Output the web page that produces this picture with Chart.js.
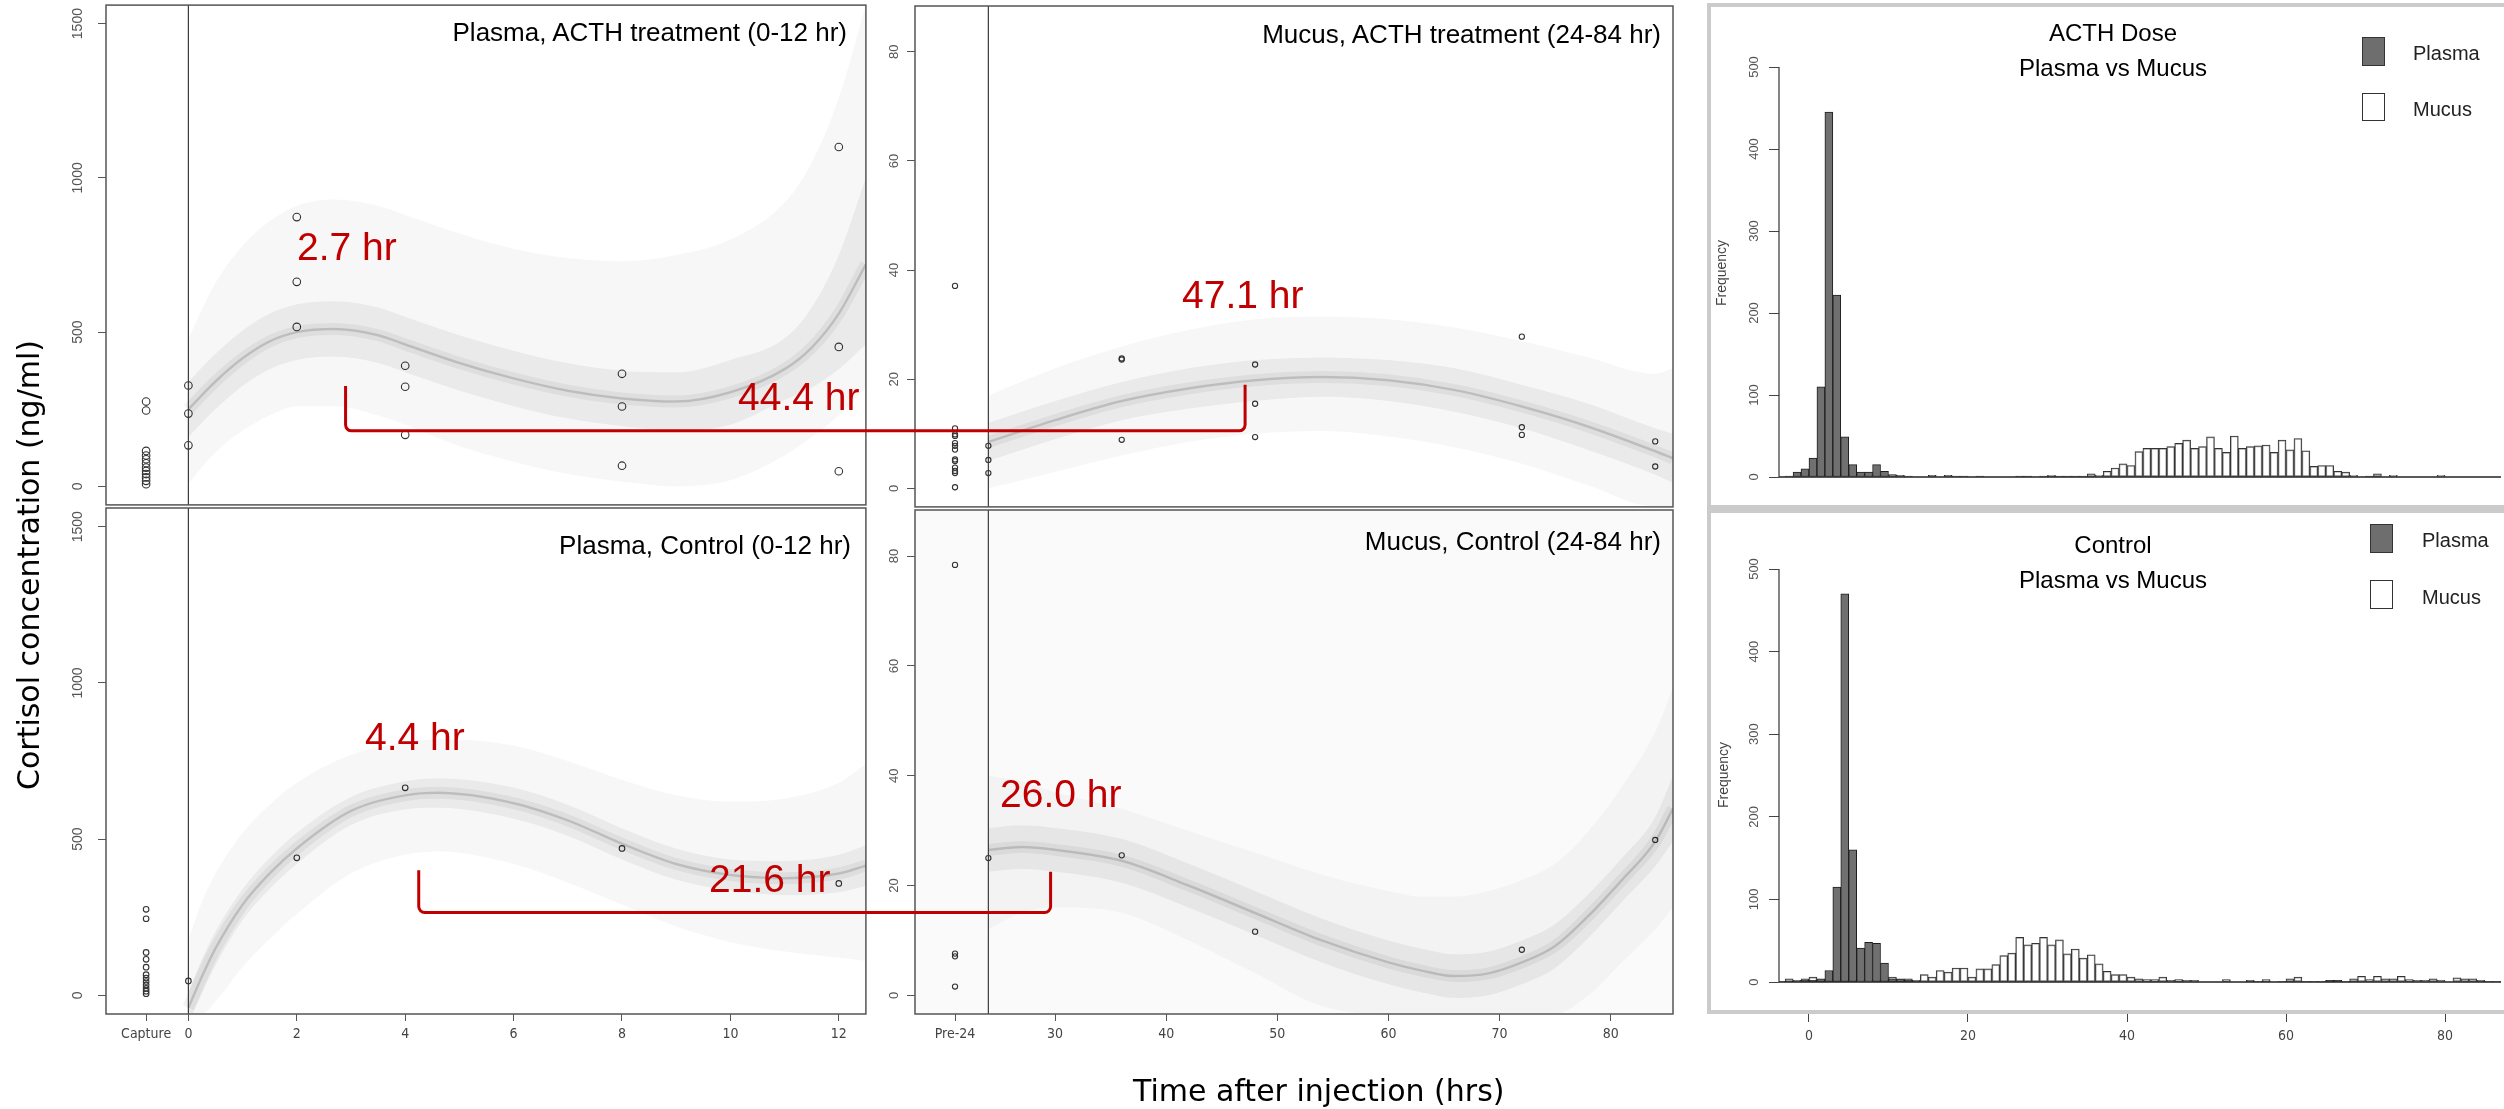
<!DOCTYPE html>
<html>
<head>
<meta charset="utf-8">
<script src="https://cdn.jsdelivr.net/npm/chart.js@4.4.1/dist/chart.umd.min.js"></script>
<style>
  html, body { margin: 0; padding: 0; background: #fff; }
  body { width: 2504px; height: 1109px; position: relative; overflow: hidden; font-family: 'Liberation Sans', Arial, sans-serif; }
  canvas { position: absolute; }
  .txt { position: absolute; white-space: nowrap; line-height: 1; }
  .frame { position: absolute; box-sizing: border-box; border: 4px solid #cbcbcb; }
  .key { position: absolute; box-sizing: border-box; border: 1.5px solid #333; }
</style>
</head>
<body>
<div class="frame" style="left:1707px; top:3px; width:820px; height:506px;"></div>
<div class="frame" style="left:1707px; top:509px; width:820px; height:505px;"></div>

<canvas id="plasmaActh" width="815" height="510" style="left:56px; top:0px;"></canvas>
<canvas id="mucusActh" width="814" height="512" style="left:865px; top:0px;"></canvas>
<canvas id="plasmaCtrl" width="815" height="550" style="left:56px; top:500px;"></canvas>
<canvas id="mucusCtrl" width="814" height="550" style="left:865px; top:500px;"></canvas>
<canvas id="histActh" width="785" height="500" style="left:1719px; top:0px;"></canvas>
<canvas id="histCtrl" width="785" height="545" style="left:1719px; top:505px;"></canvas>
<canvas id="overlay" width="2504" height="1109" style="left:0; top:0; pointer-events:none;"></canvas>

<script>
// ---------------- data ----------------
const captureT = -0.78;   // where the "Capture" samples sit on the plasma time axis
const pre24T = 21;        // where the "Pre-24" samples sit on the mucus time axis

const plasmaXTicks = [captureT, 0, 2, 4, 6, 8, 10, 12];
const mucusXTicks = [pre24T, 30, 40, 50, 60, 70, 80];
const plasmaYTicks = [0, 500, 1000, 1500];
const mucusYTicks = [0, 20, 40, 60, 80];
const histXTicks = [0, 20, 40, 60, 80];
const histYTicks = [0, 100, 200, 300, 400, 500];

// observed samples (circles)
const paObsT = [captureT, captureT, captureT, captureT, captureT, captureT, captureT, captureT, captureT, captureT, captureT, captureT,
  0, 0, 0, 2, 2, 2, 4, 4, 4, 8, 8, 8, 12, 12, 12];
const paObsY = [275, 246, 115, 100, 88, 75, 61, 50, 40, 29, 18, 7,
  327, 236, 133, 873, 663, 517, 391, 323, 167, 365, 259, 67, 1100, 452, 49];

const pcObsT = [captureT, captureT, captureT, captureT, captureT, captureT, captureT, captureT, captureT, captureT, captureT, captureT,
  0, 2, 4, 8, 12];
const pcObsY = [275, 245, 137, 115, 90, 66, 55, 44, 33, 22, 13, 5, 46, 440, 664, 470, 358];

const maObsT = [pre24T, pre24T, pre24T, pre24T, pre24T, pre24T, pre24T, pre24T, pre24T, pre24T, pre24T, pre24T, pre24T,
  24, 24, 24, 36, 36, 36, 48, 48, 48, 72, 72, 72, 84, 84];
const maObsY = [37.1, 11.0, 9.9, 9.6, 8.3, 7.8, 7.1, 5.3, 5.0, 3.8, 3.2, 2.8, 0.2,
  7.8, 5.2, 2.8, 23.6, 23.8, 8.9, 22.7, 15.5, 9.4, 27.8, 11.2, 9.8, 8.6, 4.0];

const mcObsT = [pre24T, pre24T, pre24T, pre24T, 24, 36, 48, 72, 84];
const mcObsY = [78.4, 7.6, 7.1, 1.6, 25.0, 25.5, 11.6, 8.3, 28.3];

// fitted curve cloud: centre line and dense / faint envelopes
const paT = [0, 0.5, 1, 1.5, 2, 2.7, 3.5, 4, 5, 6, 7, 8, 9, 10, 11, 11.5, 12, 12.5];
const paMid = [250, 340, 415, 470, 500, 510, 490, 460, 400, 350, 310, 285, 275, 305, 380, 450, 560, 720];
const paInHi = [340, 430, 505, 560, 590, 600, 580, 550, 490, 440, 400, 375, 370, 410, 480, 580, 750, 1000];
const paInLo = [160, 250, 325, 380, 410, 420, 400, 370, 310, 260, 220, 195, 180, 200, 280, 320, 380, 460];
const paOutHi = [480, 660, 780, 860, 910, 930, 910, 880, 820, 770, 740, 730, 750, 800, 920, 1050, 1260, 1560];
const paOutLo = [10, 110, 180, 230, 260, 260, 230, 200, 130, 80, 40, 15, 0, 20, 100, 160, 230, 320];

const pcT = [0, 0.25, 0.5, 1, 1.5, 2, 3, 4, 4.6, 6, 7, 8, 9, 10, 11, 12, 12.5];
const pcMid = [-40, 60, 150, 290, 390, 470, 590, 640, 648, 615, 560, 485, 420, 385, 375, 390, 415];
const pcInHi = [10, 115, 205, 340, 440, 520, 635, 685, 695, 665, 610, 535, 470, 435, 430, 450, 480];
const pcInLo = [-90, 5, 95, 240, 340, 420, 545, 595, 600, 565, 510, 435, 370, 335, 320, 330, 350];
const pcOutHi = [180, 300, 390, 520, 610, 680, 770, 810, 820, 800, 750, 690, 640, 620, 630, 680, 740];
const pcOutLo = [-60, -60, -20, 90, 180, 260, 390, 450, 460, 420, 360, 290, 220, 170, 140, 120, 110];

const maT = [24, 30, 36, 42, 48, 54, 60, 66, 72, 78, 84, 85.6];
const maMid = [8.5, 12.5, 16, 18.3, 19.8, 20.4, 19.8, 18, 15, 11.3, 6.8, 5.5];
const maInHi = [12, 16, 19.5, 22, 23.5, 24, 23.5, 22, 19, 15.5, 11, 10];
const maInLo = [5, 9, 12.5, 14.6, 16, 16.8, 16, 14, 11, 7, 2.5, 1];
const maOutHi = [17, 22, 26, 29, 31, 31.5, 31, 29.5, 27, 24, 21, 22];
const maOutLo = [0, 3, 6, 8.5, 10, 10.5, 9.5, 7.5, 4.5, 0.5, -3.4, -3.4];

const mcT = [24, 27, 30, 36, 42, 48, 54, 60, 63, 66, 69, 72, 75, 78, 81, 84, 85.6];
const mcMid = [26.5, 27, 26.5, 24.5, 20, 15, 10, 6, 4.5, 3.5, 4, 6, 9, 14.5, 21, 28, 34];
const mcInHi = [30.5, 31, 30.5, 28.5, 24, 19, 14, 10, 8.5, 7.5, 8, 10, 13, 18.5, 25, 32.5, 40];
const mcInLo = [22.5, 23, 22.5, 20.5, 16, 11, 6, 2, 0.5, -0.5, 0, 2, 5, 10.5, 17, 23.5, 28];
const mcOutHi = [40, 39, 37, 34, 30, 26, 22, 19, 18, 18, 19, 21, 24, 30, 38, 48, 56];
const mcOutLo = [12, 15, 16, 15, 10, 4, -2, -3.4, -3.4, -3.4, -3.4, -3.4, -3.4, 0, 6, 12, 16];

// histograms of peak time (bin = left edge, 1 hr wide)
const acthPlasmaBin = [-3, -2, -1, 0, 1, 2, 3, 4, 5, 6, 7, 8, 9, 10, 11, 12, 15, 17, 18, 19, 21, 26, 27, 29, 30, 31, 32, 33, 34, 70];
const acthPlasmaN = [1, 6, 10, 23, 110, 445, 222, 49, 15, 6, 6, 15, 7, 3, 2, 1, 2, 2, 1, 1, 1, 1, 1, 1, 1, 1, 1, 1, 1, 1];
const acthMucusBin = [30, 35, 36, 37, 38, 39, 40, 41, 42, 43, 44, 45, 46, 47, 48, 49, 50, 51, 52, 53, 54, 55, 56, 57, 58, 59, 60,
  61, 62, 63, 64, 65, 66, 67, 68, 71, 73, 79];
const acthMucusN = [2, 4, 2, 7, 11, 16, 14, 31, 35, 35, 35, 37, 41, 45, 35, 37, 49, 35, 30, 50, 35, 37, 38, 39, 30, 45, 33,
  47, 32, 13, 14, 14, 7, 6, 2, 4, 2, 2];

const ctrlPlasmaBin = [-4, -3, -2, -1, 0, 1, 2, 3, 4, 5, 6, 7, 8, 9, 10, 11, 12, 13, 55, 56, 57, 59, 60, 62, 63, 64, 65, 66, 67, 68, 84, 85, 86];
const ctrlPlasmaN = [1, 1, 1, 2, 2, 4, 14, 115, 470, 160, 41, 48, 47, 23, 4, 3, 2, 1, 1, 1, 1, 1, 1, 1, 1, 1, 2, 2, 1, 1, 1, 1, 1];
const ctrlMucusBin = [-3, -2, -1, 0, 1, 2, 3, 4, 5, 8, 9, 10, 11, 12, 13, 14, 15, 16, 17, 18, 19, 20, 21, 22, 23, 24, 25, 26, 27, 28, 29,
  30, 31, 32, 33, 34, 35, 36, 37, 38, 39, 40, 41, 42, 43, 44, 45, 46, 47, 48, 52, 55, 57, 60, 61, 65, 66,
  68, 69, 70, 71, 72, 73, 74, 75, 76, 77, 78, 79, 81, 82, 83, 84];
const ctrlMucusN = [4, 2, 4, 6, 3, 2, 2, 2, 2, 2, 2, 6, 4, 4, 2, 9, 6, 14, 12, 17, 17, 6, 16, 16, 21, 32, 35, 54, 45, 47, 54,
  45, 51, 34, 40, 29, 33, 22, 13, 9, 9, 6, 4, 3, 3, 6, 2, 3, 2, 2, 3, 2, 3, 4, 6, 2, 2,
  4, 7, 3, 7, 4, 4, 7, 3, 2, 2, 4, 2, 5, 4, 4, 2];

// ---------------- helpers ----------------
Chart.defaults.font.family = "'Liberation Sans', Arial, sans-serif";
const narrow = "'Liberation Sans Narrow', 'DejaVu Sans Condensed', 'Liberation Sans', Arial, sans-serif";

const pts = (t, v) => t.map((x, i) => ({ x: x, y: v[i] }));

// keep the plot box exactly where the layout padding puts it
function fixY(width) {
  return s => { s.width = width; s.paddingTop = 0; s.paddingBottom = 0; };
}
function fixX(show) {
  return s => { s.height = show ? 36 : 0; s.paddingLeft = 0; s.paddingRight = 0; };
}

// box, reference line, R style axis line and baseline
const panelDeco = {
  id: 'panelDeco',
  beforeDatasetsDraw(chart, args, o) {
    if (!o.wash) return;
    const a = chart.chartArea;
    chart.ctx.save();
    chart.ctx.fillStyle = o.wash;
    chart.ctx.fillRect(a.left, a.top, a.right - a.left, a.bottom - a.top);
    chart.ctx.restore();
  },
  afterDatasetsDraw(chart, args, o) {
    const a = chart.chartArea, ctx = chart.ctx;
    ctx.save();
    if (o.vline != null) {
      const x = chart.scales.x.getPixelForValue(o.vline);
      ctx.strokeStyle = '#3a3a3a'; ctx.lineWidth = 1.2;
      ctx.beginPath(); ctx.moveTo(x, a.top); ctx.lineTo(x, a.bottom); ctx.stroke();
    }
    if (o.box) {
      ctx.strokeStyle = '#555'; ctx.lineWidth = 1.5;
      ctx.strokeRect(a.left, a.top, a.right - a.left, a.bottom - a.top);
    }
    if (o.axisLine) {
      const y = chart.scales.y;
      ctx.strokeStyle = '#333'; ctx.lineWidth = 1.2;
      ctx.beginPath();
      ctx.moveTo(a.left, y.getPixelForValue(o.axisLine[0]));
      ctx.lineTo(a.left, y.getPixelForValue(o.axisLine[1]));
      ctx.stroke();
    }
    if (o.baseline) {
      const y0 = chart.scales.y.getPixelForValue(0);
      ctx.strokeStyle = '#222'; ctx.lineWidth = 1.4;
      ctx.beginPath(); ctx.moveTo(a.left, y0); ctx.lineTo(a.right, y0); ctx.stroke();
    }
    ctx.restore();
  }
};

function curvePanel(id, c) {
  const line = (t, v, extra) => Object.assign({
    type: 'line', data: pts(t, v), pointRadius: 0, borderWidth: 0,
    borderColor: 'rgba(0,0,0,0)', fill: false, cubicInterpolationMode: 'monotone'
  }, extra || {});
  const datasets = [
    line(c.t, c.outHi),
    line(c.t, c.outLo, { fill: '-1', backgroundColor: 'rgba(0,0,0,0.03)' }),
    line(c.t, c.inHi),
    line(c.t, c.inLo, { fill: '-1', backgroundColor: 'rgba(0,0,0,0.055)' }),
    line(c.t, c.mid, { borderColor: 'rgba(0,0,0,0.05)', borderWidth: 12 }),
    line(c.t, c.mid, { borderColor: 'rgba(0,0,0,0.15)', borderWidth: 2.5 }),
    { type: 'scatter', data: pts(c.obsT, c.obsY), pointRadius: c.r, pointBorderWidth: 1.1,
      pointBorderColor: '#333', pointBackgroundColor: 'rgba(0,0,0,0)' }
  ];
  return new Chart(document.getElementById(id), {
    type: 'scatter',
    data: { datasets: datasets },
    plugins: [panelDeco],
    options: {
      responsive: false, animation: false, events: [],
      layout: { padding: c.pad },
      plugins: { legend: { display: false }, tooltip: { enabled: false },
        panelDeco: { box: true, vline: c.vline, wash: c.wash } },
      scales: {
        x: {
          type: 'linear', min: c.xMin, max: c.xMax, display: c.showX,
          afterBuildTicks: s => { s.ticks = c.xTicks.map(v => ({ value: v })); },
          afterFit: fixX(c.showX),
          ticks: { autoSkip: false, maxRotation: 0, padding: 5, color: '#444', font: { family: narrow, size: 14 },
            callback: v => (v === c.xSpecial ? c.xSpecialLabel : String(v)) },
          grid: { drawOnChartArea: false, drawTicks: true, tickLength: 7, color: '#555' },
          border: { display: false }
        },
        y: {
          min: c.yMin, max: c.yMax,
          afterBuildTicks: s => { s.ticks = c.yTicks.map(v => ({ value: v })); },
          afterFit: fixY(50),
          ticks: { autoSkip: false, minRotation: 90, maxRotation: 90, crossAlign: 'center',
            padding: c.yPad, color: '#555', font: { size: c.yFont }, callback: v => String(v) },
          grid: { drawOnChartArea: false, drawTicks: true, tickLength: 8, color: '#555' },
          border: { display: false }
        }
      }
    }
  });
}

function histPanel(id, h) {
  const bars = (bin, n, extra) => Object.assign({
    type: 'bar', data: bin.map((b, i) => ({ x: b + 0.5, y: n[i] })),
    grouped: false, barPercentage: 1, categoryPercentage: 1, borderWidth: 1, borderSkipped: false
  }, extra);
  return new Chart(document.getElementById(id), {
    type: 'bar',
    data: { datasets: [
      bars(h.pBin, h.pN, { backgroundColor: '#707070', borderColor: '#1e1e1e' }),
      bars(h.mBin, h.mN, { backgroundColor: 'rgba(255,255,255,0.55)', borderColor: '#333' })
    ] },
    plugins: [panelDeco],
    options: {
      responsive: false, animation: false, events: [],
      layout: { padding: h.pad },
      plugins: { legend: { display: false }, tooltip: { enabled: false },
        panelDeco: { axisLine: [0, 500], baseline: true } },
      scales: {
        x: {
          type: 'linear', min: -3.77, max: 87.04, offset: false, display: h.showX,
          afterBuildTicks: s => { s.ticks = histXTicks.map(v => ({ value: v })); },
          afterFit: fixX(h.showX),
          ticks: { autoSkip: false, maxRotation: 0, padding: 6, color: '#444', font: { family: narrow, size: 14 } },
          grid: { offset: false, drawOnChartArea: false, drawTicks: true, tickLength: 8, color: '#444' },
          border: { display: false }
        },
        y: {
          min: h.yMin, max: 500,
          afterBuildTicks: s => { s.ticks = histYTicks.map(v => ({ value: v })); },
          afterFit: fixY(60),
          ticks: { autoSkip: false, minRotation: 90, maxRotation: 90, crossAlign: 'center',
            padding: 4, color: '#555', font: { size: 13 }, callback: v => String(v) },
          grid: { drawOnChartArea: false, drawTicks: true, tickLength: 10, color: '#444' },
          border: { display: false }
        }
      }
    }
  });
}

// ---------------- charts ----------------
const plasmaBase = { xMin: -1.52, xMax: 12.5, yMin: -60, yMax: 1560, xTicks: plasmaXTicks, yTicks: plasmaYTicks,
  xSpecial: captureT, xSpecialLabel: 'Capture', vline: 0, yPad: 4, yFont: 14 };
const mucusBase = { xMin: 17.4, xMax: 85.6, yMin: -3.4, yMax: 88.4, xTicks: mucusXTicks, yTicks: mucusYTicks,
  xSpecial: pre24T, xSpecialLabel: 'Pre-24', vline: 24, yPad: 5, yFont: 13 };

const cPA = curvePanel('plasmaActh', Object.assign({}, plasmaBase, {
  showX: false, pad: { top: 3, right: 5, bottom: 5, left: 0 }, r: 3.8,
  t: paT, mid: paMid, inHi: paInHi, inLo: paInLo, outHi: paOutHi, outLo: paOutLo, obsT: paObsT, obsY: paObsY }));
const cPC = curvePanel('plasmaCtrl', Object.assign({}, plasmaBase, {
  showX: true, pad: { top: 8, right: 5, bottom: 0, left: 0 }, r: 2.8,
  t: pcT, mid: pcMid, inHi: pcInHi, inLo: pcInLo, outHi: pcOutHi, outLo: pcOutLo, obsT: pcObsT, obsY: pcObsY }));
const cMA = curvePanel('mucusActh', Object.assign({}, mucusBase, {
  showX: false, pad: { top: 6, right: 6, bottom: 3, left: 0 }, r: 2.6,
  t: maT, mid: maMid, inHi: maInHi, inLo: maInLo, outHi: maOutHi, outLo: maOutLo, obsT: maObsT, obsY: maObsY }));
const cMC = curvePanel('mucusCtrl', Object.assign({}, mucusBase, {
  showX: true, pad: { top: 10, right: 6, bottom: 0, left: 0 }, r: 2.6, wash: 'rgba(0,0,0,0.02)',
  t: mcT, mid: mcMid, inHi: mcInHi, inLo: mcInLo, outHi: mcOutHi, outLo: mcOutLo, obsT: mcObsT, obsY: mcObsY }));

histPanel('histActh', { showX: false, yMin: 0, pad: { top: 67, right: 3, bottom: 23, left: 0 },
  pBin: acthPlasmaBin, pN: acthPlasmaN, mBin: acthMucusBin, mN: acthMucusN });
histPanel('histCtrl', { showX: true, yMin: -38.7, pad: { top: 64, right: 3, bottom: 0, left: 0 },
  pBin: ctrlPlasmaBin, pN: ctrlPlasmaN, mBin: ctrlMucusBin, mN: ctrlMucusN });

// ---------------- lag brackets (peak time in plasma -> peak time in mucus) ----------------
const canvasPos = { plasmaActh: [56, 0], mucusActh: [865, 0], plasmaCtrl: [56, 500], mucusCtrl: [865, 500] };
const brackets = [
  { from: cPA, to: cMA, x0: 2.9, y0: 325, level: 180, x1: 47.1, y1: 19 },
  { from: cPC, to: cMC, x0: 4.25, y0: 400, level: 265, x1: 29.6, y1: 22.5 }
];
const octx = document.getElementById('overlay').getContext('2d');
octx.strokeStyle = '#c00000';
octx.lineWidth = 3;
octx.lineJoin = 'round';
brackets.forEach(b => {
  const pf = canvasPos[b.from.canvas.id], pt = canvasPos[b.to.canvas.id];
  const lx = pf[0] + b.from.scales.x.getPixelForValue(b.x0);
  const ly = pf[1] + b.from.scales.y.getPixelForValue(b.y0);
  const hy = pf[1] + b.from.scales.y.getPixelForValue(b.level);
  const rx = pt[0] + b.to.scales.x.getPixelForValue(b.x1);
  const ry = pt[1] + b.to.scales.y.getPixelForValue(b.y1);
  octx.beginPath();
  octx.moveTo(lx, ly);
  octx.arcTo(lx, hy, rx, hy, 6);
  octx.arcTo(rx, hy, rx, ry, 6);
  octx.lineTo(rx, ry);
  octx.stroke();
});

// ---------------- text ----------------
function addText(str, x, baseline, size, opt) {
  opt = opt || {};
  const d = document.createElement('div');
  d.className = 'txt';
  d.textContent = str;
  d.style.fontSize = size + 'px';
  d.style.color = opt.color || '#000';
  if (opt.family) d.style.fontFamily = opt.family;
  d.style.top = (baseline - 0.85 * size) + 'px';
  if (opt.align === 'right') d.style.right = (2504 - x) + 'px';
  else if (opt.align === 'center') { d.style.left = x + 'px'; d.style.transform = 'translateX(-50%)'; }
  else d.style.left = x + 'px';
  document.body.appendChild(d);
}
function addRotated(str, cx, cy, size, opt) {
  opt = opt || {};
  const d = document.createElement('div');
  d.className = 'txt';
  d.textContent = str;
  d.style.fontSize = size + 'px';
  d.style.color = opt.color || '#000';
  if (opt.family) d.style.fontFamily = opt.family;
  d.style.left = cx + 'px';
  d.style.top = cy + 'px';
  d.style.transform = 'translate(-50%, -50%) rotate(-90deg)';
  document.body.appendChild(d);
}
function addKey(x, y, w, h, fill) {
  const d = document.createElement('div');
  d.className = 'key';
  Object.assign(d.style, { left: x + 'px', top: y + 'px', width: w + 'px', height: h + 'px', background: fill });
  document.body.appendChild(d);
}

// panel titles
addText('Plasma, ACTH treatment (0-12 hr)', 847, 41, 26, { align: 'right' });
addText('Mucus, ACTH treatment (24-84 hr)', 1661, 43, 26, { align: 'right' });
addText('Plasma, Control (0-12 hr)', 851, 554, 26, { align: 'right' });
addText('Mucus, Control (24-84 hr)', 1661, 550, 26, { align: 'right' });

// peak / lag annotations
const red = { color: '#c00000' };
addText('2.7 hr', 297, 260, 39, red);
addText('44.4 hr', 738, 410, 39, red);
addText('47.1 hr', 1182, 308, 39, red);
addText('4.4 hr', 365, 750, 39, red);
addText('21.6 hr', 709, 892, 39, red);
addText('26.0 hr', 1000, 807, 39, red);

// axis titles
addRotated('Cortisol concentration (ng/ml)', 29, 565, 30, { family: "'DejaVu Sans', sans-serif" });
addText('Time after injection (hrs)', 1133, 1101, 30, { family: "'DejaVu Sans', sans-serif" });

// histogram titles, legends, axis label
addText('ACTH Dose', 2113, 41, 24, { align: 'center' });
addText('Plasma vs Mucus', 2113, 76, 24, { align: 'center' });
addText('Control', 2113, 553, 24, { align: 'center' });
addText('Plasma vs Mucus', 2113, 588, 24, { align: 'center' });
addRotated('Frequency', 1721, 273, 14, { color: '#444' });
addRotated('Frequency', 1723, 775, 14, { color: '#444' });

addKey(2362, 37, 23, 29, '#6e6e6e');
addKey(2362, 93, 23, 28, '#fff');
addText('Plasma', 2413, 60, 20, { color: '#222' });
addText('Mucus', 2413, 116, 20, { color: '#222' });
addKey(2370, 524, 23, 29, '#6e6e6e');
addKey(2370, 580, 23, 29, '#fff');
addText('Plasma', 2422, 547, 20, { color: '#222' });
addText('Mucus', 2422, 604, 20, { color: '#222' });
</script>
</body>
</html>
